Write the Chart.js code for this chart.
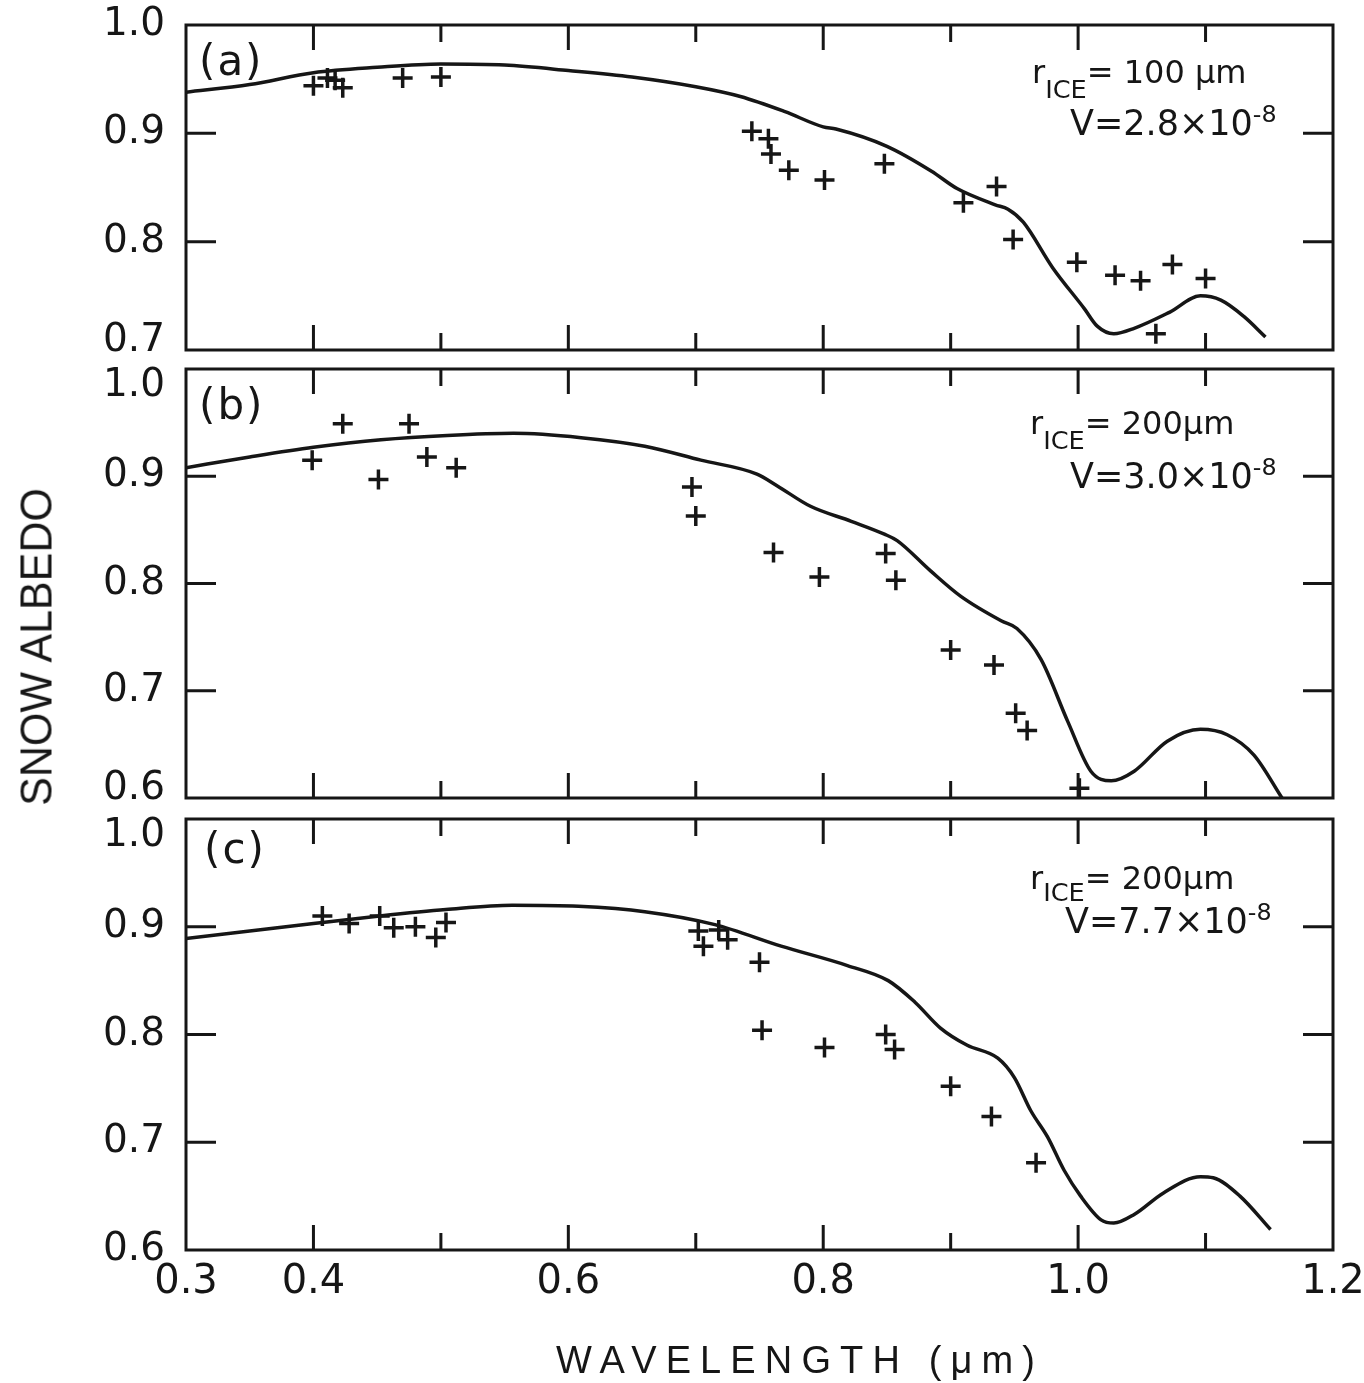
<!DOCTYPE html>
<html>
<head>
<meta charset="utf-8">
<script src="https://cdn.jsdelivr.net/npm/chart.js@4.4.1/dist/chart.umd.min.js"></script>
<style>
  html, body { margin: 0; padding: 0; background: #ffffff; }
  #wrap { position: relative; width: 1364px; height: 1383px; overflow: hidden; background: #ffffff; }
  canvas { position: absolute; left: 0; top: 0; }
  .t { position: absolute; white-space: nowrap; color: #161616; font-family: "DejaVu Sans", sans-serif; line-height: 1; }
  .t sub { font-size: 0.8em; vertical-align: -0.6em; line-height: 0; }
  .t sub.sh { vertical-align: -0.45em; }
  .t sup { font-size: 0.68em; vertical-align: 0.55em; line-height: 0; }
  .pl { letter-spacing: 2px; }
  #ytitle { font-family: "Liberation Sans Narrow", "Liberation Sans", sans-serif; font-size: 45px; }
  #xtitle { font-family: "Liberation Sans Narrow", "Liberation Sans", sans-serif; font-size: 38px; }
</style>
</head>
<body>
<div id="wrap">
  <canvas id="ca" width="1364" height="1383"></canvas>
  <canvas id="cb" width="1364" height="1383"></canvas>
  <canvas id="cc" width="1364" height="1383"></canvas>

  <div class="t pl" style="left:199px;top:40px;font-size:42px;">(a)</div>
  <div class="t" style="left:1032px;top:56px;font-size:32px;">r<sub>ICE</sub>= 100 μm</div>
  <div class="t" style="left:1070px;top:106px;font-size:35px;">V=2.8×10<sup>-8</sup></div>

  <div class="t pl" style="left:199px;top:384px;font-size:42px;">(b)</div>
  <div class="t" style="left:1030px;top:407px;font-size:32px;">r<sub>ICE</sub>= 200μm</div>
  <div class="t" style="left:1070px;top:459px;font-size:35px;">V=3.0×10<sup>-8</sup></div>

  <div class="t pl" style="left:204px;top:828px;font-size:42px;">(c)</div>
  <div class="t" style="left:1030px;top:862px;font-size:32px;">r<sub class="sh">ICE</sub>= 200μm</div>
  <div class="t" style="left:1065px;top:904px;font-size:35px;">V=7.7×10<sup>-8</sup></div>

  <div class="t" id="ytitle" style="left:36px;top:647px;">SNOW ALBEDO</div>
  <div class="t" id="xtitle" style="left:800px;top:1360px;">WAVELENGTH (μm)</div>
</div>

<script>
// ---------------- data ----------------
const xTickValues = [0.3, 0.4, 0.5, 0.6, 0.7, 0.8, 0.9, 1.0, 1.1, 1.2];
const xTickLabels = ['0.3', '0.4', '', '0.6', '', '0.8', '', '1.0', '', '1.2'];

const yTicksA = [0.7, 0.8, 0.9, 1.0];
const yLabelsA = ['0.7', '0.8', '0.9', '1.0'];
const yTicksBC = [0.6, 0.7, 0.8, 0.9, 1.0];
const yLabelsBC = ['0.6', '0.7', '0.8', '0.9', '1.0'];

// (a) r_ICE = 100 um, V = 2.8e-8
const curveAX = [0.300, 0.350, 0.400, 0.450, 0.500, 0.550, 0.600, 0.650, 0.700, 0.735, 0.770, 0.800, 0.810, 0.850, 0.885, 0.905, 0.935, 0.945, 0.957, 0.980, 1.005, 1.015, 1.028, 1.044, 1.072, 1.096, 1.112, 1.130, 1.147];
const curveAY = [0.938, 0.945, 0.956, 0.961, 0.964, 0.963, 0.958, 0.952, 0.943, 0.934, 0.920, 0.906, 0.904, 0.888, 0.865, 0.849, 0.834, 0.830, 0.818, 0.776, 0.738, 0.722, 0.715, 0.720, 0.735, 0.750, 0.746, 0.731, 0.712];
const obsAX = [0.400, 0.411, 0.417, 0.423, 0.470, 0.500, 0.744, 0.757, 0.759, 0.773, 0.801, 0.848, 0.910, 0.936, 0.949, 0.999, 1.029, 1.049, 1.061, 1.074, 1.100];
const obsAY = [0.944, 0.951, 0.949, 0.942, 0.951, 0.952, 0.902, 0.895, 0.881, 0.866, 0.857, 0.872, 0.836, 0.851, 0.802, 0.781, 0.769, 0.764, 0.715, 0.779, 0.766];

// (b) r_ICE = 200 um, V = 3.0e-8
const curveBX = [0.300, 0.350, 0.400, 0.453, 0.505, 0.557, 0.610, 0.660, 0.704, 0.748, 0.764, 0.790, 0.822, 0.848, 0.858, 0.884, 0.908, 0.940, 0.952, 0.971, 0.992, 1.010, 1.026, 1.044, 1.070, 1.096, 1.117, 1.138, 1.160];
const curveBY = [0.908, 0.918, 0.927, 0.934, 0.938, 0.940, 0.936, 0.928, 0.915, 0.902, 0.891, 0.872, 0.858, 0.846, 0.840, 0.812, 0.788, 0.765, 0.758, 0.729, 0.671, 0.625, 0.616, 0.625, 0.653, 0.664, 0.659, 0.640, 0.600];
const obsBX = [0.399, 0.423, 0.451, 0.475, 0.489, 0.512, 0.697, 0.700, 0.761, 0.797, 0.849, 0.857, 0.900, 0.934, 0.951, 0.960, 1.001];
const obsBY = [0.915, 0.949, 0.897, 0.949, 0.918, 0.908, 0.890, 0.863, 0.829, 0.806, 0.828, 0.803, 0.738, 0.724, 0.679, 0.663, 0.609];

// (c) r_ICE = 200 um, V = 7.7e-8
const curveCX = [0.300, 0.350, 0.400, 0.452, 0.504, 0.556, 0.608, 0.660, 0.715, 0.767, 0.819, 0.851, 0.872, 0.892, 0.913, 0.937, 0.950, 0.963, 0.976, 0.989, 1.002, 1.018, 1.028, 1.044, 1.067, 1.096, 1.106, 1.127, 1.151];
const curveCY = [0.889, 0.896, 0.903, 0.910, 0.916, 0.920, 0.919, 0.914, 0.902, 0.882, 0.864, 0.850, 0.830, 0.806, 0.790, 0.778, 0.760, 0.729, 0.705, 0.674, 0.650, 0.628, 0.625, 0.633, 0.653, 0.668, 0.667, 0.650, 0.619];
const obsCX = [0.407, 0.428, 0.452, 0.463, 0.480, 0.496, 0.504, 0.702, 0.706, 0.718, 0.725, 0.750, 0.752, 0.801, 0.849, 0.856, 0.900, 0.932, 0.967];
const obsCY = [0.910, 0.903, 0.910, 0.899, 0.900, 0.890, 0.904, 0.896, 0.882, 0.897, 0.888, 0.867, 0.804, 0.788, 0.800, 0.786, 0.752, 0.724, 0.681];

// ---------------- drawing ----------------
const INK = '#161616';
const toPts = (xs, ys) => xs.map((x, i) => ({ x: x, y: ys[i] }));

const framePlugin = {
  id: 'frame',
  afterDatasetsDraw(chart) {
    const { ctx, chartArea: a } = chart;
    const xs = chart.scales.x, ys = chart.scales.y;
    ctx.save();
    ctx.strokeStyle = INK;
    ctx.lineWidth = 3;
    ctx.lineCap = 'butt';
    ctx.strokeRect(a.left, a.top, a.right - a.left, a.bottom - a.top);
    ctx.beginPath();
    xTickValues.forEach((v, i) => {
      if (i === 0 || i === xTickValues.length - 1) return;
      const px = xs.getPixelForValue(v);
      const len = xTickLabels[i] ? 25 : 17;
      ctx.moveTo(px, a.top); ctx.lineTo(px, a.top + len);
      ctx.moveTo(px, a.bottom); ctx.lineTo(px, a.bottom - len);
    });
    const yv = ys.ticks.map(t => t.value);
    yv.forEach((v, i) => {
      if (i === 0 || i === yv.length - 1) return;
      const py = ys.getPixelForValue(v);
      ctx.moveTo(a.left, py); ctx.lineTo(a.left + 30, py);
      ctx.moveTo(a.right, py); ctx.lineTo(a.right - 30, py);
    });
    ctx.stroke();
    ctx.restore();
  }
};

function makePanel(cfg) {
  const n = cfg.yTicks.length;
  new Chart(document.getElementById(cfg.id), {
    type: 'scatter',
    data: {
      datasets: [
        {
          data: toPts(cfg.curveX, cfg.curveY),
          showLine: true,
          borderColor: INK,
          borderWidth: 3.5,
          pointRadius: 0,
          cubicInterpolationMode: 'monotone',
          fill: false
        },
        {
          data: toPts(cfg.obsX, cfg.obsY),
          showLine: false,
          pointStyle: 'cross',
          pointRadius: 10,
          borderWidth: 3.5,
          pointBorderWidth: 3.5,
          borderColor: INK,
          pointBorderColor: INK,
          backgroundColor: INK,
          clip: false
        }
      ]
    },
    options: {
      responsive: false,
      animation: false,
      events: [],
      layout: { autoPadding: false, padding: { left: 0, right: 31, top: cfg.padTop, bottom: cfg.padBottom } },
      plugins: { legend: { display: false }, tooltip: { enabled: false }, title: { display: false } },
      scales: {
        x: {
          type: 'linear',
          min: 0.3, max: 1.2,
          display: cfg.showX,
          afterBuildTicks: s => { s.ticks = xTickValues.map(v => ({ value: v })); },
          afterFit: s => { s.height = cfg.showX ? 60 : 0; s.paddingLeft = 0; s.paddingRight = 0; },
          grid: { display: false, drawTicks: false },
          border: { display: false },
          ticks: {
            autoSkip: false, maxRotation: 0, padding: 9, color: INK,
            font: { family: 'DejaVu Sans', size: 40 },
            callback: (v, i) => xTickLabels[i]
          }
        },
        y: {
          type: 'linear',
          min: cfg.yTicks[0], max: cfg.yTicks[n - 1],
          afterBuildTicks: s => { s.ticks = cfg.yTicks.map(v => ({ value: v })); },
          afterFit: s => { s.width = 186; s.paddingTop = 0; s.paddingBottom = 0; },
          grid: { display: false, drawTicks: false },
          border: { display: false },
          ticks: {
            autoSkip: false, padding: 21, color: INK,
            font: (c) => ({ family: 'DejaVu Sans', size: 39, lineHeight: (c.index === 0 ? '18px' : '34px') }),
            callback: (v, i) => {
              const lab = cfg.yLabels[i];
              if (i === 0 && cfg.liftBottom) return [lab, ''];
              if (i === n - 1 && cfg.dropTop) return ['', lab];
              return lab;
            }
          }
        }
      }
    },
    plugins: [framePlugin]
  });
}

makePanel({ id: 'ca', yTicks: yTicksA, yLabels: yLabelsA, curveX: curveAX, curveY: curveAY, obsX: obsAX, obsY: obsAY,
  padTop: 25, padBottom: 1383 - 350, showX: false, liftBottom: true, dropTop: false });
makePanel({ id: 'cb', yTicks: yTicksBC, yLabels: yLabelsBC, curveX: curveBX, curveY: curveBY, obsX: obsBX, obsY: obsBY,
  padTop: 369, padBottom: 1383 - 798, showX: false, liftBottom: true, dropTop: true });
makePanel({ id: 'cc', yTicks: yTicksBC, yLabels: yLabelsBC, curveX: curveCX, curveY: curveCY, obsX: obsCX, obsY: obsCY,
  padTop: 819, padBottom: 1383 - 1250 - 60, showX: true, liftBottom: false, dropTop: true });

// axis titles: fit to measured extents
(function () {
  const yt = document.getElementById('ytitle');
  const sy = 318 / yt.offsetWidth;
  yt.style.transform = 'translate(-50%,-50%) rotate(-90deg) scaleX(' + sy.toFixed(3) + ')';
  const xt = document.getElementById('xtitle');
  const w0 = xt.offsetWidth;
  const nch = xt.textContent.length;
  const ls = Math.max(0, (488 - w0) / nch);
  xt.style.letterSpacing = ls.toFixed(2) + 'px';
  xt.style.transform = 'translate(-50%,-50%)';
})();
</script>
</body>
</html>
